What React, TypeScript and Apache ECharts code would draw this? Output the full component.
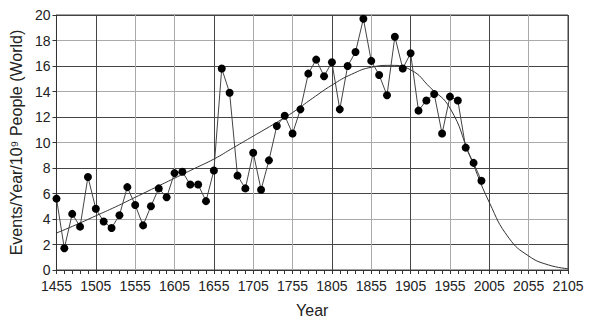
import React, { useEffect, useRef } from "react";
import * as echarts from "echarts";

const years = [
  1455, 1465, 1475, 1485, 1495, 1505, 1515, 1525, 1535, 1545, 1555, 1565, 1575, 1585, 1595,
  1605, 1615, 1625, 1635, 1645, 1655, 1665, 1675, 1685, 1695, 1705, 1715, 1725, 1735, 1745,
  1755, 1765, 1775, 1785, 1795, 1805, 1815, 1825, 1835, 1845, 1855, 1865, 1875, 1885, 1895,
  1905, 1915, 1925, 1935, 1945, 1955, 1965, 1975, 1985, 1995,
];
const events = [
  5.6, 1.7, 4.4, 3.4, 7.3, 4.8, 3.8, 3.3, 4.3, 6.5, 5.1, 3.5, 5.0, 6.4, 5.7,
  7.6, 7.7, 6.7, 6.7, 5.4, 7.8, 15.8, 13.9, 7.4, 6.4, 9.2, 6.3, 8.6, 11.3, 12.1,
  10.7, 12.6, 15.4, 16.5, 15.2, 16.3, 12.6, 16.0, 17.1, 19.7, 16.4, 15.3, 13.7, 18.3, 15.8,
  17.0, 12.5, 13.3, 13.8, 10.7, 13.6, 13.3, 9.6, 8.4, 7.0,
];
const fitYears = [
  1455, 1480, 1505, 1530, 1555, 1580, 1605, 1630, 1655, 1680, 1705, 1730, 1755, 1780,
  1805, 1830, 1855, 1880, 1905, 1930, 1955, 1980, 2005, 2030, 2055, 2080, 2105,
];
const fitValues = [
  2.9, 3.55, 4.25, 4.95, 5.7, 6.45, 7.2, 7.95, 8.7, 9.6, 10.5, 11.4, 12.35, 13.45,
  14.5, 15.35, 15.9, 16.05, 15.7, 14.3, 12.7, 9.0, 5.3, 2.5, 1.1, 0.4, 0.1,
];

const DARK = "#444";
const LIGHT = "#aaa";
const xGridColors = [DARK, DARK, LIGHT, LIGHT, DARK, LIGHT, LIGHT, DARK, LIGHT, DARK, LIGHT, DARK, LIGHT, DARK];
const yGridColors = [DARK, DARK, LIGHT, DARK, DARK, LIGHT, DARK, LIGHT, DARK, LIGHT, DARK];

export default function App() {
  const ref = useRef<HTMLDivElement>(null);
  useEffect(() => {
    if (!ref.current) return;
    const chart = echarts.init(ref.current, undefined, { renderer: "svg" });
    const font = "'Liberation Sans', Arial, sans-serif";
    chart.setOption({
      animation: false,
      backgroundColor: "#fff",
      textStyle: { fontFamily: font },
      grid: { left: 54, right: 23, top: 15, bottom: 60, show: true, borderColor: DARK, borderWidth: 1 },
      xAxis: {
        type: "value",
        min: 1455,
        max: 2105,
        interval: 50,
        name: "Year",
        nameLocation: "middle",
        nameGap: 32,
        nameTextStyle: { fontSize: 16, color: "#222", fontFamily: font },
        axisLine: { show: true, lineStyle: { color: "#333" } },
        axisTick: { show: true, length: 4, lineStyle: { color: "#333" } },
        minorTick: { show: true, splitNumber: 5, length: 4, lineStyle: { color: "#333" } },
        axisLabel: { fontSize: 14, lineHeight: 12, color: "#222", margin: 10, fontFamily: font, formatter: (v: number) => String(v) },
        splitLine: { show: true, lineStyle: { color: xGridColors, width: 1 } },
      },
      yAxis: {
        type: "value",
        min: 0,
        max: 20,
        interval: 2,
        name: "Events/Year/10\u2079 People (World)",
        nameLocation: "middle",
        nameGap: 30,
        nameTextStyle: { fontSize: 16, color: "#222", fontFamily: font },
        axisLine: { show: true, lineStyle: { color: "#333" } },
        axisTick: { show: true, length: 4, lineStyle: { color: "#333" } },
        axisLabel: { fontSize: 14, lineHeight: 12, color: "#222", margin: 6, fontFamily: font },
        splitLine: { show: true, lineStyle: { color: yGridColors, width: 1 } },
      },
      series: [
        {
          type: "line",
          data: fitYears.map((y, i) => [y, fitValues[i]]),
          smooth: 0.5,
          showSymbol: false,
          symbol: "none",
          lineStyle: { color: "#333", width: 1 },
          z: 3,
        },
        {
          type: "line",
          data: years.map((y, i) => [y, events[i]]),
          symbol: "circle",
          symbolSize: 8,
          itemStyle: { color: "#000" },
          lineStyle: { color: "#444", width: 1 },
          z: 4,
        },
      ],
    });
    return () => chart.dispose();
  }, []);
  return <div ref={ref} style={{ position: "absolute", left: 0, top: 0, width: 591, height: 330 }} />;
}
